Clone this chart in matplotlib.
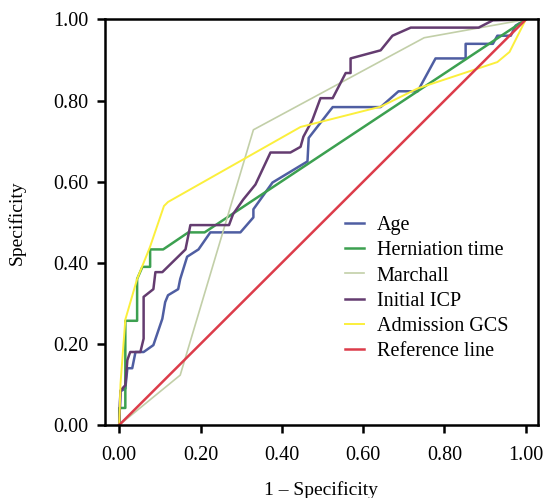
import matplotlib
matplotlib.use("Agg")
import matplotlib.pyplot as plt

plt.rcParams['font.family'] = ['Liberation Serif', 'DejaVu Serif']

# ---- data ----
age_x = [0, 0.003, 0.015, 0.02, 0.032, 0.04, 0.06, 0.084, 0.106, 0.113, 0.12, 0.145, 0.15,
         0.167, 0.195, 0.224, 0.298, 0.33, 0.33, 0.377, 0.463, 0.466, 0.525, 0.643, 0.687,
         0.734, 0.778, 0.852, 0.852, 0.919, 0.93, 0.963, 0.975, 1.0]
age_y = [0, 0.083, 0.09, 0.14, 0.14, 0.18, 0.18, 0.197, 0.262, 0.303, 0.32, 0.335, 0.36,
         0.415, 0.433, 0.475, 0.475, 0.512, 0.532, 0.598, 0.65, 0.708, 0.784, 0.784, 0.823,
         0.823, 0.904, 0.904, 0.94, 0.94, 0.96, 0.96, 0.985, 1.0]

hern_x = [0, 0, 0.015, 0.015, 0.044, 0.044, 0.057, 0.076, 0.076, 0.108, 0.17, 0.21, 1.0]
hern_y = [0, 0.042, 0.042, 0.257, 0.257, 0.36, 0.39, 0.39, 0.433, 0.433, 0.475, 0.475, 1.0]

march_x = [0, 0.15, 0.33, 0.75, 1.0]
march_y = [0, 0.123, 0.728, 0.955, 1.0]

icp_x = [0, 0.003, 0.015, 0.02, 0.027, 0.052, 0.06, 0.06, 0.084, 0.089, 0.106, 0.163, 0.175,
         0.27, 0.28, 0.305, 0.335, 0.372, 0.421, 0.446, 0.453, 0.475, 0.495, 0.525, 0.557,
         0.569, 0.569, 0.643, 0.672, 0.717, 0.884, 0.919, 1.0]
icp_y = [0, 0.085, 0.098, 0.16, 0.18, 0.18, 0.213, 0.316, 0.335, 0.377, 0.377, 0.433, 0.493,
         0.493, 0.52, 0.556, 0.593, 0.672, 0.672, 0.686, 0.711, 0.752, 0.806, 0.806, 0.868,
         0.868, 0.904, 0.924, 0.96, 0.98, 0.98, 0.998, 1.0]

gcs_x = [0, 0.003, 0.015, 0.044, 0.076, 0.11, 0.12, 0.446, 0.643, 0.734, 0.93, 0.96, 1.0]
gcs_y = [0, 0.10, 0.26, 0.36, 0.44, 0.54, 0.55, 0.735, 0.785, 0.83, 0.895, 0.92, 1.0]

ref_x = [0, 1]
ref_y = [0, 1]

ticks = [0, 0.2, 0.4, 0.6, 0.8, 1.0]
tick_labels = ['0.00', '0.20', '0.40', '0.60', '0.80', '1.00']

# ---- figure ----
fig = plt.figure(figsize=(5.48, 4.98), dpi=100)
ax = fig.add_axes([105 / 548, 1 - 425 / 498, (538 - 105) / 548, (425 - 19.5) / 498])

ax.plot(age_x, age_y, color='#4f5ea2', lw=1.8, label='Age')
ax.plot(hern_x, hern_y, color='#3ca050', lw=1.8, label='Herniation time')
ax.plot(march_x, march_y, color='#c2cfa8', lw=1.2, label='Marchall')
ax.plot(icp_x, icp_y, color='#643c70', lw=1.8, label='Initial ICP')
ax.plot(gcs_x, gcs_y, color='#fbef3c', lw=1.4, label='Admission GCS')
ax.plot(ref_x, ref_y, color='#dc3c4a', lw=1.8, label='Reference line')

ax.set_xlim(-0.035, 1.03)
ax.set_ylim(0, 1)
ax.set_xticks(ticks)
ax.set_xticklabels(tick_labels)
ax.set_yticks(ticks)
ax.set_yticklabels(tick_labels)
for s in ax.spines.values():
    s.set_linewidth(1.8)
ax.tick_params(axis='both', direction='out', length=6, width=1.8, labelsize=14.5, colors='black')
ax.tick_params(axis='x', pad=9)
ax.tick_params(axis='y', pad=6)

ax.set_xlabel('1 – Specificity', fontsize=14, labelpad=12)
ax.set_ylabel('Specificity', fontsize=14, labelpad=20)

leg = ax.legend(loc='upper left', bbox_to_anchor=(0.555, 0.515), frameon=False,
                fontsize=14.5, handlelength=0.95, handletextpad=0.6, labelspacing=0.3,
                borderpad=0, borderaxespad=0)

fig.savefig('out.png', dpi=100)
